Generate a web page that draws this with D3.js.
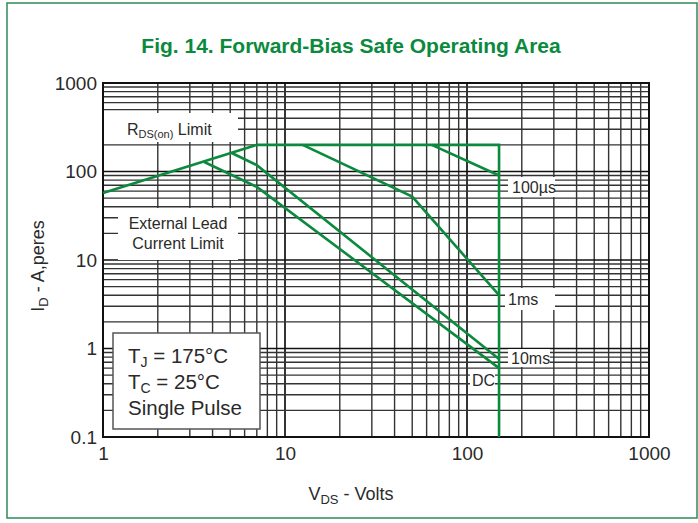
<!DOCTYPE html>
<html>
<head>
<meta charset="utf-8">
<script src="https://cdn.jsdelivr.net/npm/d3@7"></script>
<style>
  html, body { margin: 0; padding: 0; background: #fff; }
  svg { display: block; }
  text { font-family: "Liberation Sans", Arial, sans-serif; fill: #2a2a2a; }
</style>
</head>
<body>
<svg id="chart" width="698" height="523"></svg>
<script>
// ---- data ----
const title = "Fig. 14. Forward-Bias Safe Operating Area";
const xTickValues = [1, 10, 100, 1000];
const xTickLabels = ["1", "10", "100", "1000"];
const yTickValues = [0.1, 1, 10, 100, 1000];
const yTickLabels = ["0.1", "1", "10", "100", "1000"];

// R_DS(on) limit
const rdsV = [1, 7];
const rdsI = [57, 200];
// package / voltage limit (flat top + vertical at 150 V)
const limitV = [7, 150, 150];
const limitI = [200, 200, 0.1];
// 100 µs
const us100V = [64, 150];
const us100I = [200, 90];
// 1 ms
const ms1V = [12.5, 50, 150];
const ms1I = [200, 52, 4];
// 10 ms
const ms10V = [5.1, 7, 150];
const ms10I = [162, 118, 0.76];
// DC
const dcV = [3.6, 7, 150];
const dcI = [128, 67, 0.6];

const seriesList = [
  {v: rdsV, i: rdsI},
  {v: limitV, i: limitI},
  {v: us100V, i: us100I},
  {v: ms1V, i: ms1I},
  {v: ms10V, i: ms10I},
  {v: dcV, i: dcI}
];

// ---- layout ----
const svg = d3.select("#chart");
const green = "#0b8a3e";
const M = {left: 103, right: 649, top: 83, bottom: 437};

const x = d3.scaleLog().domain([1, 1000]).range([M.left, M.right]);
const y = d3.scaleLog().domain([0.1, 1000]).range([M.bottom, M.top]);

// outer green frame
svg.append("rect").attr("x", 7).attr("y", 3).attr("width", 690).attr("height", 515)
  .attr("fill", "none").attr("stroke", "#2e8b57").attr("stroke-width", 1.5);

// title
svg.append("text").attr("x", 351).attr("y", 53).attr("text-anchor", "middle")
  .style("font-family", "'Liberation Sans Narrow', 'Liberation Sans', Arial, sans-serif")
  .style("font-weight", "bold").style("font-size", "21px").style("fill", green)
  .text(title);

// grid
function decadeTicks(lo, hi) {
  const out = [];
  for (let e = Math.log10(lo); e < Math.log10(hi); e++) {
    for (let k = 1; k <= 9; k++) out.push({v: k * Math.pow(10, e), major: k === 1});
  }
  out.push({v: hi, major: true});
  return out;
}
const grid = svg.append("g");
decadeTicks(1, 1000).forEach(t => {
  grid.append("line").attr("x1", x(t.v)).attr("x2", x(t.v)).attr("y1", M.top).attr("y2", M.bottom)
    .attr("stroke", t.major ? "#111" : "#333").attr("stroke-width", t.major ? 1.7 : 1.4);
});
decadeTicks(0.1, 1000).forEach(t => {
  grid.append("line").attr("y1", y(t.v)).attr("y2", y(t.v)).attr("x1", M.left).attr("x2", M.right)
    .attr("stroke", t.major ? "#111" : "#333").attr("stroke-width", t.major ? 1.7 : 1.4);
});
// plot frame
svg.append("rect").attr("x", M.left).attr("y", M.top).attr("width", M.right - M.left)
  .attr("height", M.bottom - M.top).attr("fill", "none").attr("stroke", "#111").attr("stroke-width", 2);

// white label boxes covering grid
function box(x0, y0, x1, y1, stroke) {
  svg.append("rect").attr("x", x0).attr("y", y0).attr("width", x1 - x0).attr("height", y1 - y0)
    .attr("fill", "#fff").attr("stroke", stroke || "none").attr("stroke-width", 1.5);
}
box(104, 113, 238, 142);
box(118, 208, 238, 260);
box(508, 177, 555, 197);
box(505, 288, 555, 310);
box(508, 349, 550, 367);
box(470, 372, 495, 388);

// curves
const line = d3.line().x(d => x(d[0])).y(d => y(d[1]));
seriesList.forEach(s => {
  const pts = s.v.map((v, k) => [v, s.i[k]]);
  svg.append("path").attr("d", line(pts)).attr("fill", "none")
    .attr("stroke", green).attr("stroke-width", 2.6).attr("stroke-linejoin", "miter");
});

// legend box (drawn over the plot)
box(113, 333, 260, 429, "#555");
const leg = svg.append("g").style("font-size", "20.5px");
const l1 = leg.append("text").attr("x", 128).attr("y", 363);
l1.append("tspan").text("T");
l1.append("tspan").attr("dy", 4).style("font-size", "14px").text("J");
l1.append("tspan").attr("dy", -4).text(" = 175°C");
const l2 = leg.append("text").attr("x", 128).attr("y", 389);
l2.append("tspan").text("T");
l2.append("tspan").attr("dy", 4).style("font-size", "14px").text("C");
l2.append("tspan").attr("dy", -4).text(" = 25°C");
leg.append("text").attr("x", 128).attr("y", 415).text("Single Pulse");

// inline labels
const rl = svg.append("text").attr("x", 127).attr("y", 135).style("font-size", "16px");
rl.append("tspan").text("R");
rl.append("tspan").attr("dy", 3).style("font-size", "11px").text("DS(on)");
rl.append("tspan").attr("dy", -3).text(" Limit");
svg.append("text").attr("x", 178).attr("y", 229).attr("text-anchor", "middle").style("font-size", "16px").text("External Lead");
svg.append("text").attr("x", 178).attr("y", 249).attr("text-anchor", "middle").style("font-size", "16px").text("Current Limit");
svg.append("text").attr("x", 512).attr("y", 193).style("font-size", "16px").text("100µs");
svg.append("text").attr("x", 508).attr("y", 305).style("font-size", "16px").text("1ms");
svg.append("text").attr("x", 511).attr("y", 364).style("font-size", "16px").text("10ms");
svg.append("text").attr("x", 472).attr("y", 386).style("font-size", "16px").text("DC");

// axes tick labels
const yAxis = d3.axisLeft(y).tickValues(yTickValues).tickFormat((d, k) => yTickLabels[k]).tickSize(0).tickPadding(6);
const gy = svg.append("g").attr("transform", `translate(${M.left},0)`).call(yAxis);
gy.select(".domain").remove();
gy.selectAll("text").style("font-family", "'Liberation Sans', Arial, sans-serif").style("font-size", "19px").style("fill", "#2a2a2a");

const xAxis = d3.axisBottom(x).tickValues(xTickValues).tickFormat((d, k) => xTickLabels[k]).tickSize(0).tickPadding(10);
const gx = svg.append("g").attr("transform", `translate(0,${M.bottom})`).call(xAxis);
gx.select(".domain").remove();
gx.selectAll("text").style("font-family", "'Liberation Sans', Arial, sans-serif").style("font-size", "19px").style("fill", "#2a2a2a");

// axis titles
const xt = svg.append("text").attr("x", 351).attr("y", 500).attr("text-anchor", "middle").style("font-size", "18px");
xt.append("tspan").text("V");
xt.append("tspan").attr("dy", 4).style("font-size", "13px").text("DS");
xt.append("tspan").attr("dy", -4).text(" - Volts");

const yt = svg.append("text").attr("transform", "translate(44,266) rotate(-90)").attr("text-anchor", "middle").style("font-size", "18px");
yt.append("tspan").text("I");
yt.append("tspan").attr("dy", 4).style("font-size", "13px").text("D");
yt.append("tspan").attr("dy", -4).text(" - A,peres");
</script>
</body>
</html>
